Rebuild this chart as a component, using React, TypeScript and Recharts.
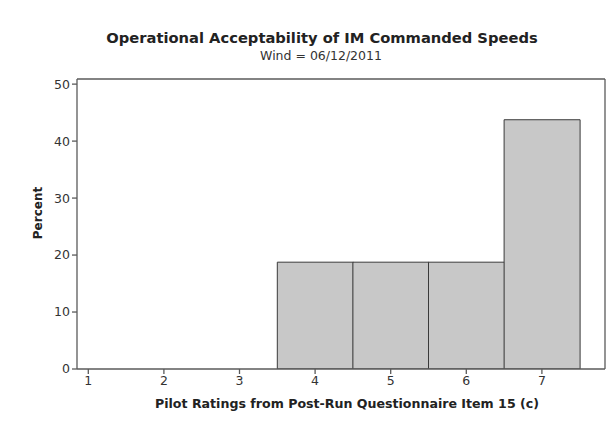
import { Bar, BarChart, CartesianGrid, ReferenceLine, XAxis, YAxis } from 'recharts';

const ratings = [1, 2, 3, 4, 5, 6, 7];
const percents = [0, 0, 0, 18.75, 18.75, 18.75, 43.75];
const yTicks = [0, 10, 20, 30, 40, 50];

const data = ratings.map((r, i) => ({ rating: r, percent: percents[i] }));

const font = 'Tahoma, "DejaVu Sans", sans-serif';
const frame = '#5a5a5a';
const yMax = 50.9;

export default function App() {
  return (
    <div style={{ position: 'absolute', left: 0, top: 0, width: 608, height: 430, background: '#fff', fontFamily: font }}>
      <div style={{ position: 'absolute', left: 22, width: 600, top: 29, textAlign: 'center', fontSize: 14.7, fontWeight: 700, color: '#222' }}>
        Operational Acceptability of IM Commanded Speeds
      </div>
      <div style={{ position: 'absolute', left: 21, width: 600, top: 48, textAlign: 'center', fontSize: 12.5, color: '#333' }}>
        Wind = 06/12/2011
      </div>
      <div style={{ position: 'absolute', left: -12, width: 100, top: 206, textAlign: 'center', fontSize: 12, fontWeight: 700, color: '#222', transform: 'rotate(-90deg)' }}>
        Percent
      </div>
      <BarChart width={608} height={430} data={data} margin={{ top: 79, right: 3, bottom: 0, left: 0 }} barCategoryGap={0} barGap={0}>
        {/* right edge of the frame */}
        <CartesianGrid horizontal={false} verticalPoints={[605]} stroke={frame} strokeWidth={1.3} />
        <XAxis
          dataKey="rating"
          type="category"
          padding={{ left: -26.5, right: 25.3 }}
          height={61}
          stroke={frame}
          strokeWidth={1.3}
          tickSize={5}
          interval={0}
          tick={{ fill: '#333', fontSize: 12.5, fontFamily: font }}
          label={{ value: 'Pilot Ratings from Post-Run Questionnaire Item 15 (c)', position: 'insideBottom', offset: 22, dx: 6, fill: '#222', fontSize: 12.6, fontWeight: 700, fontFamily: font }}
        />
        <YAxis
          domain={[0, yMax]}
          ticks={yTicks}
          allowDataOverflow
          width={77}
          stroke={frame}
          strokeWidth={1.3}
          tickSize={5}
          tick={{ fill: '#333', fontSize: 12.5, fontFamily: font }}
        />
        <ReferenceLine y={yMax} stroke={frame} strokeWidth={1.3} />
        <Bar dataKey="percent" fill="#c8c8c8" stroke="#3a3a3a" strokeWidth={1} isAnimationActive={false} />
      </BarChart>
    </div>
  );
}
